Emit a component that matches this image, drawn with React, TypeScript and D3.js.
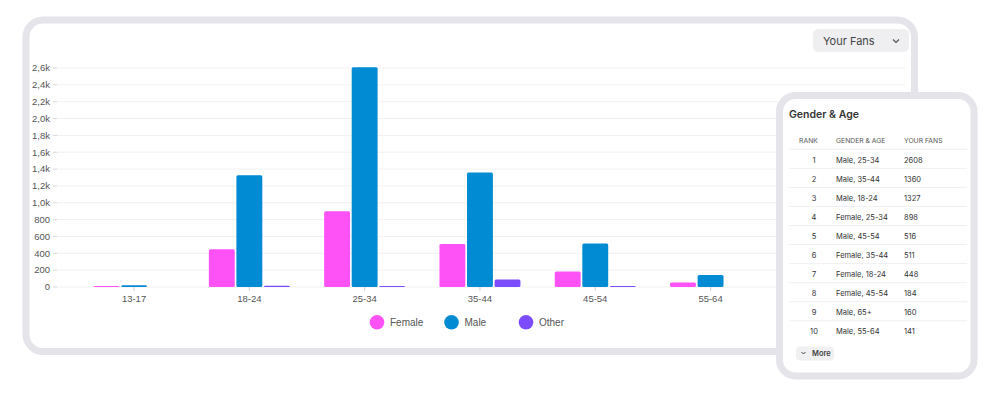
import React from "react";
import * as d3 from "d3";

// chart data
const categories = ["13-17", "18-24", "25-34", "35-44", "45-54", "55-64", "65+"];
const seriesNames = ["Female", "Male", "Other"];
const female = [6, 448, 898, 511, 184, 52, 40];
const male = [22, 1327, 2608, 1360, 516, 141, 160];
const other = [0, 14, 12, 88, 5, 0, 0];
const colors = ["#ff52f6", "#008bd3", "#7c4dff"];
const yTicks = d3.range(0, 2601, 200);

// table data
const ranks = [1, 2, 3, 4, 5, 6, 7, 8, 9, 10];
const groups = [
  "Male, 25-34", "Male, 35-44", "Male, 18-24", "Female, 25-34", "Male, 45-54",
  "Female, 35-44", "Female, 18-24", "Female, 45-54", "Male, 65+", "Male, 55-64",
];
const fans = [2608, 1360, 1327, 898, 516, 511, 448, 184, 160, 141];

const chartFont = "'Liberation Sans', Arial, sans-serif";
const uiFont = "Inter, 'Noto Sans', sans-serif";

const fmt = (v: number) =>
  v >= 1000 ? (v / 1000).toFixed(1).replace(".", ",") + "k" : String(v);

export default function App() {
  const values = [female, male, other];

  const x = d3.scaleBand().domain(categories).range([76.4, 883.5]).padding(0);
  const xSub = d3
    .scaleBand()
    .domain(seriesNames)
    .range([(x.bandwidth() - 81) / 2, (x.bandwidth() + 81) / 2])
    .paddingInner(0.06);
  const y = d3.scaleLinear().domain([0, 2600]).range([287, 68]);

  const rowY = d3.scaleLinear().domain([1, 10]).range([160, 331]);

  return (
    <svg
      width={1000}
      height={396}
      style={{ position: "absolute", left: 0, top: 0, background: "#fff" }}
    >
      {/* main card */}
      <rect x={26} y={20} width={888.5} height={331.5} rx={17} fill="#fff" stroke="#e4e4ea" strokeWidth={7} />

      {/* dropdown */}
      <rect x={813} y={29} width={96} height={23} rx={5} fill="#efeff1" />
      <text x={823} y={44.5} fontFamily={uiFont} fontSize={11} fill="#444">Your Fans</text>
      <path d="M893,39.5 L896,42.5 L899,39.5" fill="none" stroke="#555" strokeWidth={1.2} />

      {/* grid + y axis */}
      <g fontFamily={chartFont} fontSize={9.5} fill="#555">
        {yTicks.map((t) => (
          <g key={t}>
            <line x1={57} x2={905} y1={y(t)} y2={y(t)} stroke="#f1f1f3" />
            <line x1={53} x2={57} y1={y(t)} y2={y(t)} stroke="#d8d8dc" />
            <text x={50} y={y(t)} dy="0.35em" textAnchor="end">{fmt(t)}</text>
          </g>
        ))}
      </g>

      {/* bars */}
      {categories.map((c, i) => (
        <g key={c} transform={`translate(${x(c)},0)`}>
          {seriesNames.map((s, j) => {
            const v = values[j][i];
            if (!v) return null;
            const h = Math.max(y(0) - y(v), 1);
            return (
              <rect
                key={s}
                x={xSub(s)}
                y={y(0) - h}
                width={xSub.bandwidth()}
                height={h}
                rx={1.5}
                fill={colors[j]}
              />
            );
          })}
        </g>
      ))}

      {/* x axis */}
      <g fontFamily={chartFont} fontSize={9.5} fill="#555">
        {categories.map((c) => {
          const cx = (x(c) as number) + x.bandwidth() / 2;
          return (
            <g key={c}>
              <line x1={cx} x2={cx} y1={287} y2={291} stroke="#d0d0d4" />
              <text x={cx} y={302} textAnchor="middle">{c}</text>
            </g>
          );
        })}
      </g>

      {/* legend */}
      <g fontFamily={chartFont} fontSize={10} fill="#555">
        {seriesNames.map((s, j) => {
          const lx = 377 + j * 74.5;
          return (
            <g key={s}>
              <circle cx={lx} cy={322.3} r={7.3} fill={colors[j]} />
              <text x={lx + 13} y={322.3} dy="0.35em">{s}</text>
            </g>
          );
        })}
      </g>

      {/* phone card */}
      <rect x={779.5} y={95.5} width={194.5} height={280.5} rx={16} fill="#fff" stroke="#e4e4ea" strokeWidth={7} />
      <text x={789} y={118} fontFamily={uiFont} fontSize={10.5} fontWeight={600} fill="#333">Gender &amp; Age</text>
      <g fontFamily={uiFont} fontSize={6.8} fill="#555">
        <text x={808.5} y={143} textAnchor="middle">RANK</text>
        <text x={836} y={143}>GENDER &amp; AGE</text>
        <text x={904} y={143}>YOUR FANS</text>
      </g>
      {d3.range(0, 10).map((k) => (
        <line key={k} x1={789} x2={967} y1={149.3 + k * 19.05} y2={149.3 + k * 19.05} stroke="#f0f0f2" />
      ))}
      <g fontFamily={uiFont} fontSize={7.5} fill="#333">
        {ranks.map((r, i) => (
          <g key={r}>
            <text x={814} y={rowY(r)} dy="0.35em" textAnchor="middle">{r}</text>
            <text x={836} y={rowY(r)} dy="0.35em">{groups[i]}</text>
            <text x={904} y={rowY(r)} dy="0.35em">{fans[i]}</text>
          </g>
        ))}
      </g>
      <rect x={796} y={346.5} width={38} height={14} rx={4} fill="#f0f0f2" />
      <path d="M801.5,352 L803.5,354 L805.5,352" fill="none" stroke="#444" strokeWidth={1} />
      <text x={812} y={353.6} dy="0.35em" fontFamily={uiFont} fontSize={7.5} fontWeight={600} fill="#444">More</text>
    </svg>
  );
}
